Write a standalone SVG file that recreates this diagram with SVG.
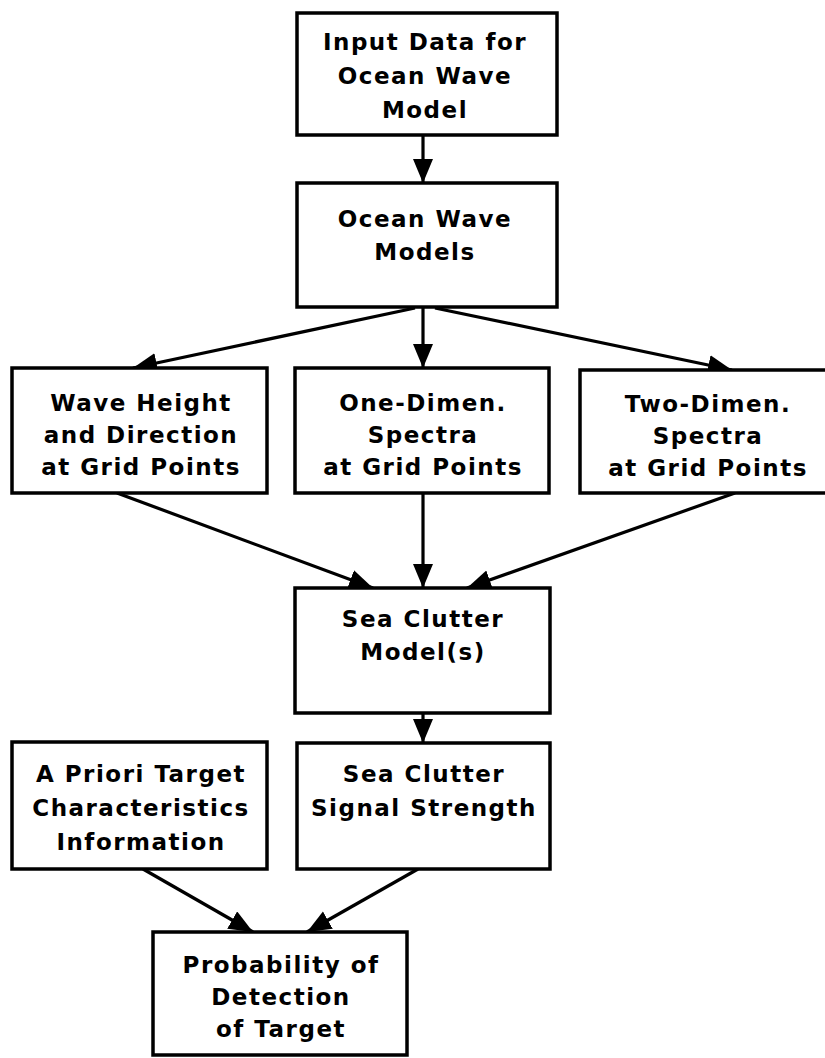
<svg xmlns="http://www.w3.org/2000/svg" width="825" height="1058" viewBox="0 0 825 1058">
<style>
.box{fill:#fff;stroke:#000;stroke-width:3.5}
.t{font-family:"DejaVu Sans","Liberation Sans",sans-serif;font-weight:bold;font-size:23px;letter-spacing:1.5px;text-anchor:middle;fill:#000}
.c{stroke:#000;stroke-width:3.2;fill:none;marker-end:url(#ah)}
</style>
<defs>
<marker id="ah" markerUnits="userSpaceOnUse" markerWidth="26" markerHeight="22" refX="24" refY="10" orient="auto">
<path d="M0,0 L24,10 L0,20 Z" fill="#000"/>
</marker>
</defs>
<rect width="825" height="1058" fill="#fff"/>
<g id="connectors">
<line class="c" x1="423" y1="135" x2="423" y2="183"/>
<line class="c" x1="415" y1="308" x2="133" y2="368"/>
<line class="c" x1="423" y1="307" x2="423" y2="368"/>
<line class="c" x1="435" y1="308" x2="732" y2="370"/>
<line class="c" x1="117" y1="493" x2="373" y2="588"/>
<line class="c" x1="423" y1="493" x2="423" y2="588"/>
<line class="c" x1="735" y1="493" x2="467" y2="588"/>
<line class="c" x1="423" y1="713" x2="423" y2="743"/>
<line class="c" x1="143" y1="869" x2="253" y2="932"/>
<line class="c" x1="418" y1="869" x2="307" y2="932"/>
</g>
<g id="input">
<rect class="box" x="297" y="13" width="260" height="122"/>
<text class="t" x="425" y="50">Input Data for</text>
<text class="t" x="425" y="84">Ocean Wave</text>
<text class="t" x="425" y="118">Model</text>
</g>
<g id="models">
<rect class="box" x="297" y="183" width="260" height="124"/>
<text class="t" x="425" y="227">Ocean Wave</text>
<text class="t" x="425" y="260">Models</text>
</g>
<g id="waveheight">
<rect class="box" x="12" y="368" width="255" height="125"/>
<text class="t" x="141" y="411">Wave Height</text>
<text class="t" x="141" y="443">and Direction</text>
<text class="t" x="141" y="475">at Grid Points</text>
</g>
<g id="onedim">
<rect class="box" x="295" y="368" width="254" height="125"/>
<text class="t" x="423" y="411">One-Dimen.</text>
<text class="t" x="423" y="443">Spectra</text>
<text class="t" x="423" y="475">at Grid Points</text>
</g>
<g id="twodim">
<rect class="box" x="580" y="370" width="256" height="123"/>
<text class="t" x="708" y="412">Two-Dimen.</text>
<text class="t" x="708" y="444">Spectra</text>
<text class="t" x="708" y="476">at Grid Points</text>
</g>
<g id="clutter">
<rect class="box" x="295" y="588" width="255" height="125"/>
<text class="t" x="423" y="627">Sea Clutter</text>
<text class="t" x="423" y="660">Model(s)</text>
</g>
<g id="apriori">
<rect class="box" x="12" y="742" width="255" height="127"/>
<text class="t" x="141" y="782">A Priori Target</text>
<text class="t" x="141" y="816">Characteristics</text>
<text class="t" x="141" y="850">Information</text>
</g>
<g id="signal">
<rect class="box" x="297" y="743" width="253" height="126"/>
<text class="t" x="424" y="782">Sea Clutter</text>
<text class="t" x="424" y="816">Signal Strength</text>
</g>
<g id="probability">
<rect class="box" x="153" y="932" width="254" height="123"/>
<text class="t" x="281" y="973">Probability of</text>
<text class="t" x="281" y="1005">Detection</text>
<text class="t" x="281" y="1037">of Target</text>
</g>
</svg>
